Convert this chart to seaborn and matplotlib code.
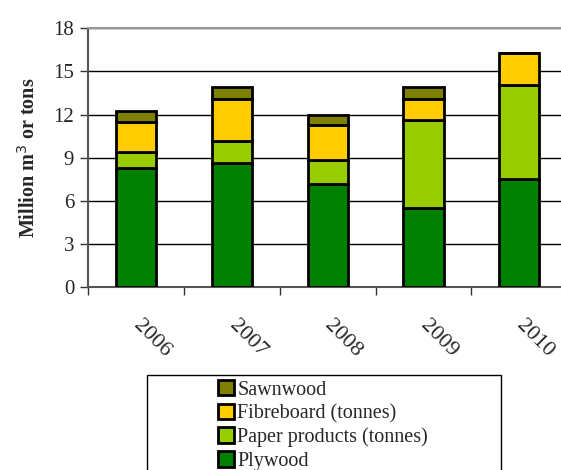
import numpy as np
import seaborn as sns
import matplotlib.pyplot as plt
from matplotlib.patches import Rectangle, Patch

# Data (million m3 or tonnes)
years = ["2006", "2007", "2008", "2009", "2010"]
plywood = [8.3, 8.65, 7.2, 5.5, 7.55]
paper = [1.1, 1.5, 1.65, 6.15, 6.5]
fibreboard = [2.05, 2.95, 2.4, 1.45, 2.25]
sawnwood = [0.8, 0.8, 0.75, 0.8, 0.0]

series = ["Plywood", "Paper products (tonnes)", "Fibreboard (tonnes)", "Sawnwood"]
colors = ["#008000", "#99cc00", "#ffcc00", "#808000"]

sns.set_style("white")
plt.rcParams['font.family'] = ['Liberation Serif', 'DejaVu Serif']

fig = plt.figure(figsize=(5.61, 4.70), dpi=100)
ax = fig.add_axes([0.157, 0.389, 0.854, 0.551])

# Stack the segments using the bottom argument
bottom = np.zeros(len(years))
for name, vals, col in zip(series, [plywood, paper, fibreboard, sawnwood], colors):
    sns.barplot(x=years, y=vals, bottom=bottom, color=col, saturation=1,
                width=0.42, edgecolor="black", linewidth=2, ax=ax, zorder=3)
    bottom = bottom + np.array(vals)

ax.set_xlim(-0.5, 4.5)
ax.set_ylim(0, 18)
ax.set_yticks(np.arange(0, 19, 3))
ax.yaxis.grid(True, color="black", linewidth=1)
ax.set_axisbelow(True)

# x ticks sit between categories
ax.set_xticks(np.arange(-0.5, 4.6, 1), minor=True)
ax.tick_params(axis="x", which="minor", length=6, width=1, color="#333333", direction="out")
ax.tick_params(axis="x", which="major", length=0, pad=26)
ax.tick_params(axis="y", length=6, width=1, color="#333333", direction="out", labelsize=15, pad=4)
ax.xaxis.set_ticks_position("bottom")
ax.yaxis.set_ticks_position("left")
for lab in ax.get_xticklabels():
    lab.set_rotation(-45)
    lab.set_rotation_mode("anchor")
    lab.set_ha("left")
    lab.set_va("center")
    lab.set_fontsize(16)

for s in ["left", "bottom", "top"]:
    ax.spines[s].set_visible(True)
    ax.spines[s].set_color("#555555")
    ax.spines[s].set_linewidth(1.5)
ax.spines["top"].set_color("#999999")
ax.spines["right"].set_visible(False)

ax.set_xlabel("")
ax.set_ylabel("Million m$^3$ or tons", fontsize=14.5, fontweight="bold", labelpad=10)

# Legend box below the chart
fig.patches.append(Rectangle((147 / 561, -0.05), 354 / 561, 0.05 + (470 - 375) / 470,
                             transform=fig.transFigure, fill=False,
                             edgecolor="black", linewidth=1))
handles = [Patch(facecolor=c, edgecolor="black", linewidth=2, label=n)
           for n, c in zip(series[::-1], colors[::-1])]
fig.legend(handles=handles, loc="upper left", bbox_to_anchor=(218 / 561, 1 - 380 / 470),
           frameon=False, fontsize=14.5, handlelength=0.8, handleheight=0.8,
           handletextpad=0.15, labelspacing=0.2, borderpad=0, borderaxespad=0)

fig.savefig("out.png", dpi=100)
